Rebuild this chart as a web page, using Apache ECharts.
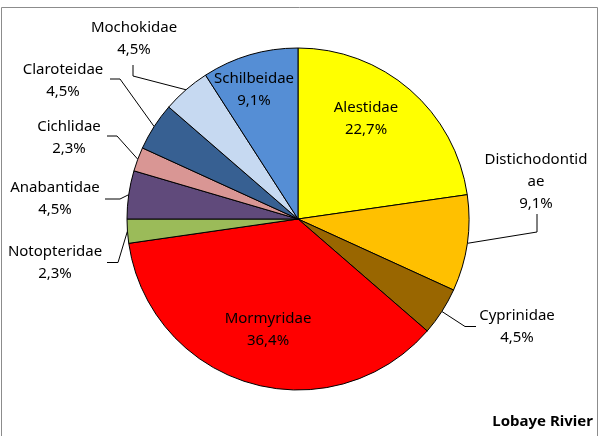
<!DOCTYPE html>
<html>
<head>
<meta charset="utf-8">
<script src="https://cdn.jsdelivr.net/npm/echarts@6/dist/echarts.min.js"></script>
<style>html,body{margin:0;padding:0;background:#fff}#c{width:600px;height:436px}</style>
</head>
<body>
<div id="c"></div>
<script>
// Data: fish family counts (percentages of 44 species)
const families = ['Alestidae','Distichodontidae','Cyprinidae','Mormyridae','Notopteridae','Anabantidae','Cichlidae','Claroteidae','Mochokidae','Schilbeidae'];
const counts   = [10, 4, 2, 16, 1, 2, 1, 2, 2, 4];
const colors   = ['#FFFF00','#FFC000','#996600','#FF0000','#9BBB59','#604A7B','#D99694','#376092','#C6D9F1','#558ED5'];
const insideLabels = ['Alestidae','Mormyridae','Schilbeidae'];
const title = 'Lobaye Rivier';

// Label placement (layout only): label centre and leader-line bend offsets relative to it
const labelPos = {
  'Alestidae':        {x: 366, y: 119},
  'Distichodontidae': {x: 536, y: 182, line: [[1, 50], [1, 32]]},
  'Cyprinidae':       {x: 517, y: 326.5, line: [[-52, 0], [-41, 0]]},
  'Mormyridae':       {x: 268, y: 330},
  'Notopteridae':     {x: 55,  y: 262.5, line: [[63, 0], [52, 0]]},
  'Anabantidae':      {x: 55,  y: 199, line: [[65, 0], [50, 0]]},
  'Cichlidae':        {x: 69,  y: 137.5, line: [[48, -1.5], [38, -1.5]]},
  'Claroteidae':      {x: 63,  y: 81, line: [[57, -2], [47, -2]]},
  'Mochokidae':       {x: 134, y: 39, line: [[-1, 37], [-1, 26]]},
  'Schilbeidae':      {x: 254, y: 89.5}
};

const total = counts.reduce((a, b) => a + b, 0);
const chart = echarts.init(document.getElementById('c'), null, {renderer: 'canvas'});

const data = families.map((name, i) => {
  const inside = insideLabels.indexOf(name) >= 0;
  return {
    name: name,
    value: counts[i],
    itemStyle: {color: colors[i]},
    label: {position: inside ? 'inside' : 'outside'},
    labelLine: {show: !inside}
  };
});

chart.setOption({
  animation: false,
  backgroundColor: '#fff',
  graphic: [
    {type: 'rect', shape: {x: 1.5, y: 7.5, width: 596, height: 440}, style: {fill: 'none', stroke: '#8c8c8c', lineWidth: 1}, z: -1}
  ],
  title: {
    text: title, right: 2, bottom: 2,
    textStyle: {fontFamily: 'Noto Sans', fontWeight: 'bold', fontSize: 15, color: '#000'}
  },
  series: [{
    type: 'pie',
    center: [298, 219],
    radius: 171,
    startAngle: 90,
    clockwise: true,
    avoidLabelOverlap: false,
    data: data,
    itemStyle: {borderColor: '#000', borderWidth: 1},
    emphasis: {disabled: true},
    label: {
      show: true,
      color: '#000',
      fontFamily: 'Noto Sans',
      fontSize: 15,
      lineHeight: 22,
      align: 'center',
      formatter: function (p) {
        let n = p.name;
        if (n.length > 14) n = n.slice(0, 14) + '\n' + n.slice(14);
        const pct = (p.value / total * 100).toFixed(1).replace('.', ',') + '%';
        return n + '\n' + pct;
      }
    },
    labelLine: {show: true, lineStyle: {color: '#000', width: 1}, length: 10, length2: 10},
    labelLayout: function (params) {
      const name = families[params.dataIndex];
      const pos = labelPos[name];
      const out = {x: pos.x, y: pos.y, align: 'center', verticalAlign: 'middle', hideOverlap: false};
      if (pos.line && params.labelLinePoints) {
        const start = params.labelLinePoints[0];
        out.labelLinePoints = [start].concat(pos.line.map(o => [pos.x + o[0], pos.y + o[1]]));
      }
      return out;
    }
  }]
});
</script>
</body>
</html>
